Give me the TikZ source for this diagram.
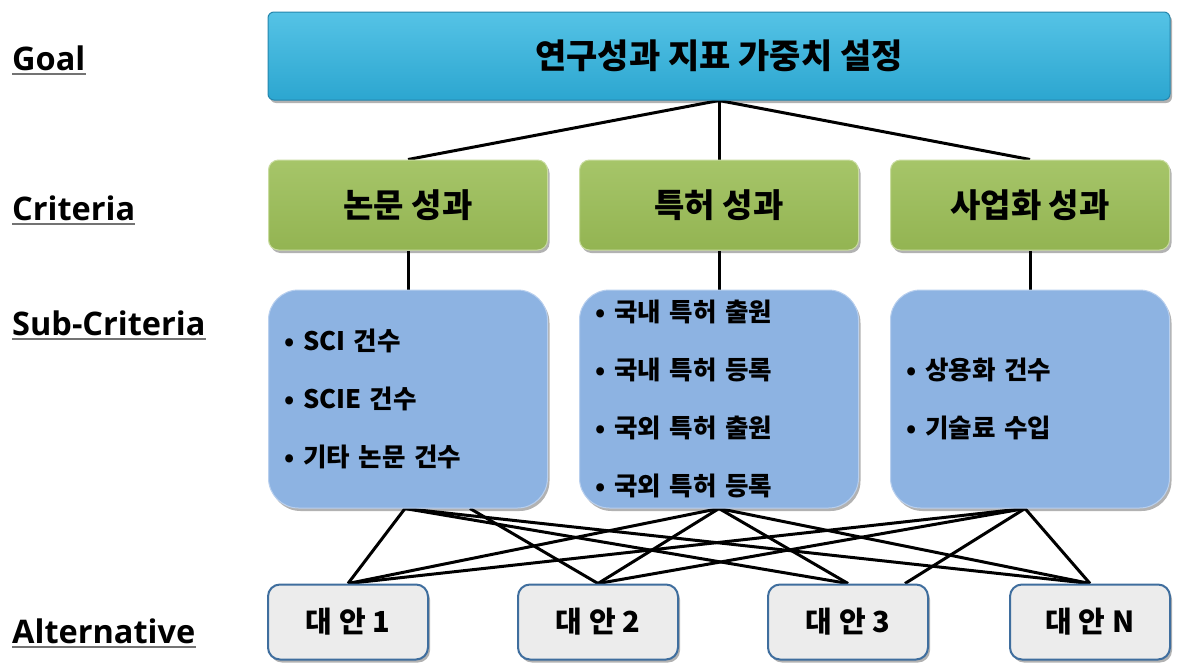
\documentclass[tikz,border=0pt]{standalone}
\usepackage{fontspec}
\setmainfont{Open Sans}
\newfontfamily\kr{Noto Sans CJK KR}
\usetikzlibrary{shadows}
\pgfdeclarelayer{bg}
\pgfsetlayers{bg,main}
\definecolor{goaltop}{HTML}{55C3E6}
\definecolor{goalbot}{HTML}{2CA6D0}
\definecolor{goaledge}{HTML}{2586AD}
\definecolor{crittop}{HTML}{A6C569}
\definecolor{critbot}{HTML}{93B452}
\definecolor{critedge}{HTML}{C9DCA0}
\definecolor{subfill}{HTML}{8DB3E2}
\definecolor{subedge}{HTML}{B8CFEE}
\definecolor{altfill}{HTML}{ECECEC}
\definecolor{altedge}{HTML}{3F6E9E}
\begin{document}
\begin{tikzpicture}[x=1pt,y=-1pt,
  lab/.style={font=\fontsize{32.5}{38}\selectfont\bfseries, inner sep=0pt, anchor=base west},
  ul/.style={line width=2.2pt, draw=black!55},
  shad/.style={drop shadow={shadow xshift=2pt, shadow yshift=-3pt, opacity=0.3, fill=black}},
  goalbox/.style={shad, draw=goaledge, line width=1pt, top color=goaltop, bottom color=goalbot,
    rounded corners=6pt, minimum width=902pt, minimum height=88pt, inner sep=0pt,
    font=\kr\bfseries\fontsize{34}{40}\selectfont},
  critbox/.style={shad, draw=critedge, line width=1pt, top color=crittop, bottom color=critbot,
    rounded corners=10pt, minimum width=279pt, minimum height=90pt, inner sep=0pt,
    font=\kr\bfseries\fontsize{33}{38}\selectfont},
  subbox/.style={shad, draw=subedge, line width=1pt, fill=subfill,
    rounded corners=30pt, minimum width=279pt, minimum height=218pt, inner xsep=16pt, inner ysep=0pt,
    text width=247pt, align=left,
    font=\kr\bfseries\fontsize{25.5}{58}\selectfont},
  altbox/.style={shad, draw=altedge, line width=2pt, fill=altfill,
    rounded corners=12pt, minimum width=160pt, minimum height=75pt, inner sep=0pt,
    font=\kr\bfseries\fontsize{29}{34}\selectfont},
  con/.style={line width=3pt, draw=black}
]
\useasboundingbox (0,0) rectangle (1180,664);

% left labels
\node[lab] (lg) at (12,70) {Goal};
\node[lab] (lc) at (12,220) {Criteria};
\node[lab] (ls) at (12,335) {Sub-Criteria};
\node[lab] (la) at (12,643) {Alternative};
\foreach \n in {lg,lc,ls,la}{
  \draw[ul] ([yshift=-4pt]\n.base west) -- ([yshift=-4pt]\n.base east);
}

% goal
\node[goalbox] (g) at (719,56) {연구성과 지표 가중치 설정};

% criteria
\node[critbox] (c1) at (408,205) {논문 성과};
\node[critbox] (c2) at (719,205) {특허 성과};
\node[critbox] (c3) at (1030,205) {사업화 성과};

% sub-criteria
\node[subbox] (s1) at (408,399) {• SCI 건수\\• SCIE 건수\\• 기타 논문 건수};
\node[subbox] (s2) at (719,399) {• 국내 특허 출원\\• 국내 특허 등록\\• 국외 특허 출원\\• 국외 특허 등록};
\node[subbox] (s3) at (1030,399) {• 상용화 건수\\• 기술료 수입};

% alternatives
\node[altbox] (a1) at (348,622) {대 안 1};
\node[altbox] (a2) at (598,622) {대 안 2};
\node[altbox] (a3) at (848,622) {대 안 3};
\node[altbox] (aN) at (1090,622) {대 안 N};

\begin{pgfonlayer}{bg}
  \fill[white] (0,0) rectangle (1180,664);
  \draw[con] (g.south) -- (c1.north);
  \draw[con] (g.south) -- (c2.north);
  \draw[con] (g.south) -- (c3.north);
  \draw[con] (c1.south) -- (s1.north);
  \draw[con] (c2.south) -- (s2.north);
  \draw[con] (c3.south) -- (s3.north);
  % mesh
  \draw[con] ([xshift=-3pt]s1.south) -- (a1.north);
  \draw[con] ([xshift=62pt]s1.south) -- (a2.north);
  \draw[con] ([xshift=-3pt]s1.south) -- (a3.north);
  \draw[con] ([xshift=-3pt]s1.south) -- (aN.north);
  \draw[con] (s2.south) -- (a1.north);
  \draw[con] (s2.south) -- (a2.north);
  \draw[con] (s2.south) -- (a3.north);
  \draw[con] (s2.south) -- (aN.north);
  \draw[con] ([xshift=-5pt]s3.south) -- (a1.north);
  \draw[con] ([xshift=-5pt]s3.south) -- (a2.north);
  \draw[con] ([xshift=-5pt]s3.south) -- ([xshift=57pt]a3.north);
  \draw[con] ([xshift=-5pt]s3.south) -- (aN.north);
\end{pgfonlayer}
\end{tikzpicture}
\end{document}
